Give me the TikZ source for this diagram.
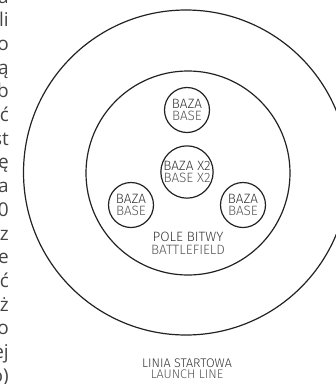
\documentclass[tikz,border=0pt]{standalone}
\usepackage{fontspec}
\IfFontExistsTF{Fira Sans Light}{\setmainfont{Fira Sans Light}}{\setmainfont{Fira Sans}}
\newfontfamily\fragfont{Open Sans}
\usepackage{tikz}
\usetikzlibrary{positioning}
\definecolor{ringcol}{HTML}{222222}
\definecolor{topcol}{HTML}{333333}
\definecolor{subcol}{HTML}{555555}
\definecolor{fragcol}{HTML}{444444}

\begin{document}
\begin{tikzpicture}[x=1pt,y=-1pt]
		\tikzset{ring/.style={draw=ringcol, line width=1.2pt}};
		\tikzset{basenode/.style={ring, circle, inner sep=0pt, minimum size=45pt, align=center, font=\fontsize{13.5}{12.7}\selectfont}};
		\tikzset{fragtext/.style={anchor=base east, inner sep=0pt, text=fragcol, font=\fragfont\fontsize{19}{19}\selectfont}};
		\useasboundingbox (0,0) rectangle (336,384);
		\clip (0,0) rectangle (336,384);
		% launch line and battlefield
		\draw[ring] (186,172.5) circle (162.5);
		\draw[ring] (188,173) circle (102);
		% bases
		\node[basenode] (bazaTop) at (187,110) {\textcolor{topcol}{BAZA}\\\textcolor{subcol}{BASE}};
		\node[basenode, minimum size=52pt] (bazaMid) at (187,172) {\textcolor{topcol}{BAZA X2}\\\textcolor{subcol}{BASE X2}};
		\node[basenode] (bazaLeft) at (131,205) {\textcolor{topcol}{BAZA}\\\textcolor{subcol}{BASE}};
		\node[basenode] (bazaRight) at (243,205) {\textcolor{topcol}{BAZA}\\\textcolor{subcol}{BASE}};
		
		\draw[] (188,243.5) node[align=center, font=\fontsize{13.5}{13.5}\selectfont] (pole) {\textcolor{topcol}{POLE BITWY}\\\textcolor{subcol}{BATTLEFIELD}};
		\draw[] (187,368.5) node[align=center, font=\fontsize{12.5}{11}\selectfont] (linia) {\textcolor{topcol}{LINIA STARTOWA}\\\textcolor{subcol}{LAUNCH LINE}};
		
		% cut-off text column
		\draw[] (9,3) node[fragtext] (frag1) {a};
		\draw[] (9,26.7) node[fragtext] (frag2) {li};
		\draw[] (9,50.4) node[fragtext] (frag3) {o};
		\draw[] (9,74.1) node[fragtext] (frag4) {ą};
		\draw[] (9,97.8) node[fragtext] (frag5) {b};
		\draw[] (9,121.5) node[fragtext] (frag6) {ć};
		\draw[] (9,145.2) node[fragtext] (frag7) {st};
		\draw[] (9,168.9) node[fragtext] (frag8) {ę};
		\draw[] (9,192.6) node[fragtext] (frag9) {a};
		\draw[] (9,216.3) node[fragtext] (frag10) {0};
		\draw[] (9,240) node[fragtext] (frag11) {z};
		\draw[] (9,263.7) node[fragtext] (frag12) {e};
		\draw[] (9,287.4) node[fragtext] (frag13) {ć};
		\draw[] (9,311.1) node[fragtext] (frag14) {ż};
		\draw[] (9,334.8) node[fragtext] (frag15) {o};
		\draw[] (9,358.5) node[fragtext] (frag16) {ej};
		\draw[] (9,382.2) node[fragtext] (frag17) {o)};
	\end{tikzpicture}
\end{document}
